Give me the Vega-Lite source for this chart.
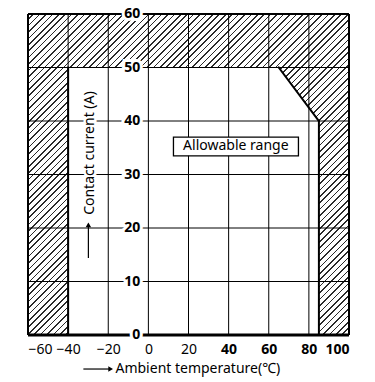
{
  "$schema": "https://vega.github.io/schema/vega-lite/v6.json",
  "width": 321,
  "height": 321,
  "autosize": "none",
  "padding": {"left": 28, "top": 14, "right": 26, "bottom": 47},
  "background": "white",
  "config": {
    "view": {"stroke": null},
    "axisY": {"disable": true},
    "font": "Noto Sans",
    "text": {"font": "Noto Sans"}
  },
  "datasets": {
    "allowable": [
      {"temp": -40, "current": 50},
      {"temp": 65, "current": 50},
      {"temp": 85, "current": 40}
    ],
    "boundary": [
      {"temp": -40, "current": 0, "temp2": -40, "current2": 50},
      {"temp": 65, "current": 50, "temp2": 85, "current2": 40},
      {"temp": 85, "current": 40, "temp2": 85, "current2": 0}
    ],
    "gridX": [{"temp": -40}, {"temp": -20}, {"temp": 0}, {"temp": 20}, {"temp": 40}, {"temp": 60}, {"temp": 80}],
    "gridY": [{"current": 10}, {"current": 20}, {"current": 30}, {"current": 40}, {"current": 50}],
    "frameX": [{"temp": -60}, {"temp": 100}],
    "ticksY": [{"current": 0}, {"current": 10}, {"current": 20}, {"current": 30}, {"current": 40}, {"current": 50}, {"current": 60}]
  },
  "layer": [
    {
      "data": {"values": [{}]},
      "mark": {
        "type": "rect",
        "stroke": null,
        "fill": {
          "gradient": "linear", "x1": 0, "y1": 0, "x2": 1, "y2": 1,
          "stops": [
            {"offset":0,"color":"#fff"},{"offset":0.0075,"color":"#fff"},{"offset":0.0075,"color":"#2a2a2a"},{"offset":0.01,"color":"#2a2a2a"},
            {"offset":0.01,"color":"#fff"},{"offset":0.0175,"color":"#fff"},{"offset":0.0175,"color":"#2a2a2a"},{"offset":0.02,"color":"#2a2a2a"},
            {"offset":0.02,"color":"#fff"},{"offset":0.0275,"color":"#fff"},{"offset":0.0275,"color":"#2a2a2a"},{"offset":0.03,"color":"#2a2a2a"},
            {"offset":0.03,"color":"#fff"},{"offset":0.0375,"color":"#fff"},{"offset":0.0375,"color":"#2a2a2a"},{"offset":0.04,"color":"#2a2a2a"},
            {"offset":0.04,"color":"#fff"},{"offset":0.0475,"color":"#fff"},{"offset":0.0475,"color":"#2a2a2a"},{"offset":0.05,"color":"#2a2a2a"},
            {"offset":0.05,"color":"#fff"},{"offset":0.0575,"color":"#fff"},{"offset":0.0575,"color":"#2a2a2a"},{"offset":0.06,"color":"#2a2a2a"},
            {"offset":0.06,"color":"#fff"},{"offset":0.0675,"color":"#fff"},{"offset":0.0675,"color":"#2a2a2a"},{"offset":0.07,"color":"#2a2a2a"},
            {"offset":0.07,"color":"#fff"},{"offset":0.0775,"color":"#fff"},{"offset":0.0775,"color":"#2a2a2a"},{"offset":0.08,"color":"#2a2a2a"},
            {"offset":0.08,"color":"#fff"},{"offset":0.0875,"color":"#fff"},{"offset":0.0875,"color":"#2a2a2a"},{"offset":0.09,"color":"#2a2a2a"},
            {"offset":0.09,"color":"#fff"},{"offset":0.0975,"color":"#fff"},{"offset":0.0975,"color":"#2a2a2a"},{"offset":0.1,"color":"#2a2a2a"},
            {"offset":0.1,"color":"#fff"},{"offset":0.1075,"color":"#fff"},{"offset":0.1075,"color":"#2a2a2a"},{"offset":0.11,"color":"#2a2a2a"},
            {"offset":0.11,"color":"#fff"},{"offset":0.1175,"color":"#fff"},{"offset":0.1175,"color":"#2a2a2a"},{"offset":0.12,"color":"#2a2a2a"},
            {"offset":0.12,"color":"#fff"},{"offset":0.1275,"color":"#fff"},{"offset":0.1275,"color":"#2a2a2a"},{"offset":0.13,"color":"#2a2a2a"},
            {"offset":0.13,"color":"#fff"},{"offset":0.1375,"color":"#fff"},{"offset":0.1375,"color":"#2a2a2a"},{"offset":0.14,"color":"#2a2a2a"},
            {"offset":0.14,"color":"#fff"},{"offset":0.1475,"color":"#fff"},{"offset":0.1475,"color":"#2a2a2a"},{"offset":0.15,"color":"#2a2a2a"},
            {"offset":0.15,"color":"#fff"},{"offset":0.1575,"color":"#fff"},{"offset":0.1575,"color":"#2a2a2a"},{"offset":0.16,"color":"#2a2a2a"},
            {"offset":0.16,"color":"#fff"},{"offset":0.1675,"color":"#fff"},{"offset":0.1675,"color":"#2a2a2a"},{"offset":0.17,"color":"#2a2a2a"},
            {"offset":0.17,"color":"#fff"},{"offset":0.1775,"color":"#fff"},{"offset":0.1775,"color":"#2a2a2a"},{"offset":0.18,"color":"#2a2a2a"},
            {"offset":0.18,"color":"#fff"},{"offset":0.1875,"color":"#fff"},{"offset":0.1875,"color":"#2a2a2a"},{"offset":0.19,"color":"#2a2a2a"},
            {"offset":0.19,"color":"#fff"},{"offset":0.1975,"color":"#fff"},{"offset":0.1975,"color":"#2a2a2a"},{"offset":0.2,"color":"#2a2a2a"},
            {"offset":0.2,"color":"#fff"},{"offset":0.2075,"color":"#fff"},{"offset":0.2075,"color":"#2a2a2a"},{"offset":0.21,"color":"#2a2a2a"},
            {"offset":0.21,"color":"#fff"},{"offset":0.2175,"color":"#fff"},{"offset":0.2175,"color":"#2a2a2a"},{"offset":0.22,"color":"#2a2a2a"},
            {"offset":0.22,"color":"#fff"},{"offset":0.2275,"color":"#fff"},{"offset":0.2275,"color":"#2a2a2a"},{"offset":0.23,"color":"#2a2a2a"},
            {"offset":0.23,"color":"#fff"},{"offset":0.2375,"color":"#fff"},{"offset":0.2375,"color":"#2a2a2a"},{"offset":0.24,"color":"#2a2a2a"},
            {"offset":0.24,"color":"#fff"},{"offset":0.2475,"color":"#fff"},{"offset":0.2475,"color":"#2a2a2a"},{"offset":0.25,"color":"#2a2a2a"},
            {"offset":0.25,"color":"#fff"},{"offset":0.2575,"color":"#fff"},{"offset":0.2575,"color":"#2a2a2a"},{"offset":0.26,"color":"#2a2a2a"},
            {"offset":0.26,"color":"#fff"},{"offset":0.2675,"color":"#fff"},{"offset":0.2675,"color":"#2a2a2a"},{"offset":0.27,"color":"#2a2a2a"},
            {"offset":0.27,"color":"#fff"},{"offset":0.2775,"color":"#fff"},{"offset":0.2775,"color":"#2a2a2a"},{"offset":0.28,"color":"#2a2a2a"},
            {"offset":0.28,"color":"#fff"},{"offset":0.2875,"color":"#fff"},{"offset":0.2875,"color":"#2a2a2a"},{"offset":0.29,"color":"#2a2a2a"},
            {"offset":0.29,"color":"#fff"},{"offset":0.2975,"color":"#fff"},{"offset":0.2975,"color":"#2a2a2a"},{"offset":0.3,"color":"#2a2a2a"},
            {"offset":0.3,"color":"#fff"},{"offset":0.3075,"color":"#fff"},{"offset":0.3075,"color":"#2a2a2a"},{"offset":0.31,"color":"#2a2a2a"},
            {"offset":0.31,"color":"#fff"},{"offset":0.3175,"color":"#fff"},{"offset":0.3175,"color":"#2a2a2a"},{"offset":0.32,"color":"#2a2a2a"},
            {"offset":0.32,"color":"#fff"},{"offset":0.3275,"color":"#fff"},{"offset":0.3275,"color":"#2a2a2a"},{"offset":0.33,"color":"#2a2a2a"},
            {"offset":0.33,"color":"#fff"},{"offset":0.3375,"color":"#fff"},{"offset":0.3375,"color":"#2a2a2a"},{"offset":0.34,"color":"#2a2a2a"},
            {"offset":0.34,"color":"#fff"},{"offset":0.3475,"color":"#fff"},{"offset":0.3475,"color":"#2a2a2a"},{"offset":0.35,"color":"#2a2a2a"},
            {"offset":0.35,"color":"#fff"},{"offset":0.3575,"color":"#fff"},{"offset":0.3575,"color":"#2a2a2a"},{"offset":0.36,"color":"#2a2a2a"},
            {"offset":0.36,"color":"#fff"},{"offset":0.3675,"color":"#fff"},{"offset":0.3675,"color":"#2a2a2a"},{"offset":0.37,"color":"#2a2a2a"},
            {"offset":0.37,"color":"#fff"},{"offset":0.3775,"color":"#fff"},{"offset":0.3775,"color":"#2a2a2a"},{"offset":0.38,"color":"#2a2a2a"},
            {"offset":0.38,"color":"#fff"},{"offset":0.3875,"color":"#fff"},{"offset":0.3875,"color":"#2a2a2a"},{"offset":0.39,"color":"#2a2a2a"},
            {"offset":0.39,"color":"#fff"},{"offset":0.3975,"color":"#fff"},{"offset":0.3975,"color":"#2a2a2a"},{"offset":0.4,"color":"#2a2a2a"},
            {"offset":0.4,"color":"#fff"},{"offset":0.4075,"color":"#fff"},{"offset":0.4075,"color":"#2a2a2a"},{"offset":0.41,"color":"#2a2a2a"},
            {"offset":0.41,"color":"#fff"},{"offset":0.4175,"color":"#fff"},{"offset":0.4175,"color":"#2a2a2a"},{"offset":0.42,"color":"#2a2a2a"},
            {"offset":0.42,"color":"#fff"},{"offset":0.4275,"color":"#fff"},{"offset":0.4275,"color":"#2a2a2a"},{"offset":0.43,"color":"#2a2a2a"},
            {"offset":0.43,"color":"#fff"},{"offset":0.4375,"color":"#fff"},{"offset":0.4375,"color":"#2a2a2a"},{"offset":0.44,"color":"#2a2a2a"},
            {"offset":0.44,"color":"#fff"},{"offset":0.4475,"color":"#fff"},{"offset":0.4475,"color":"#2a2a2a"},{"offset":0.45,"color":"#2a2a2a"},
            {"offset":0.45,"color":"#fff"},{"offset":0.4575,"color":"#fff"},{"offset":0.4575,"color":"#2a2a2a"},{"offset":0.46,"color":"#2a2a2a"},
            {"offset":0.46,"color":"#fff"},{"offset":0.4675,"color":"#fff"},{"offset":0.4675,"color":"#2a2a2a"},{"offset":0.47,"color":"#2a2a2a"},
            {"offset":0.47,"color":"#fff"},{"offset":0.4775,"color":"#fff"},{"offset":0.4775,"color":"#2a2a2a"},{"offset":0.48,"color":"#2a2a2a"},
            {"offset":0.48,"color":"#fff"},{"offset":0.4875,"color":"#fff"},{"offset":0.4875,"color":"#2a2a2a"},{"offset":0.49,"color":"#2a2a2a"},
            {"offset":0.49,"color":"#fff"},{"offset":0.4975,"color":"#fff"},{"offset":0.4975,"color":"#2a2a2a"},{"offset":0.5,"color":"#2a2a2a"},
            {"offset":0.5,"color":"#fff"},{"offset":0.5075,"color":"#fff"},{"offset":0.5075,"color":"#2a2a2a"},{"offset":0.51,"color":"#2a2a2a"},
            {"offset":0.51,"color":"#fff"},{"offset":0.5175,"color":"#fff"},{"offset":0.5175,"color":"#2a2a2a"},{"offset":0.52,"color":"#2a2a2a"},
            {"offset":0.52,"color":"#fff"},{"offset":0.5275,"color":"#fff"},{"offset":0.5275,"color":"#2a2a2a"},{"offset":0.53,"color":"#2a2a2a"},
            {"offset":0.53,"color":"#fff"},{"offset":0.5375,"color":"#fff"},{"offset":0.5375,"color":"#2a2a2a"},{"offset":0.54,"color":"#2a2a2a"},
            {"offset":0.54,"color":"#fff"},{"offset":0.5475,"color":"#fff"},{"offset":0.5475,"color":"#2a2a2a"},{"offset":0.55,"color":"#2a2a2a"},
            {"offset":0.55,"color":"#fff"},{"offset":0.5575,"color":"#fff"},{"offset":0.5575,"color":"#2a2a2a"},{"offset":0.56,"color":"#2a2a2a"},
            {"offset":0.56,"color":"#fff"},{"offset":0.5675,"color":"#fff"},{"offset":0.5675,"color":"#2a2a2a"},{"offset":0.57,"color":"#2a2a2a"},
            {"offset":0.57,"color":"#fff"},{"offset":0.5775,"color":"#fff"},{"offset":0.5775,"color":"#2a2a2a"},{"offset":0.58,"color":"#2a2a2a"},
            {"offset":0.58,"color":"#fff"},{"offset":0.5875,"color":"#fff"},{"offset":0.5875,"color":"#2a2a2a"},{"offset":0.59,"color":"#2a2a2a"},
            {"offset":0.59,"color":"#fff"},{"offset":0.5975,"color":"#fff"},{"offset":0.5975,"color":"#2a2a2a"},{"offset":0.6,"color":"#2a2a2a"},
            {"offset":0.6,"color":"#fff"},{"offset":0.6075,"color":"#fff"},{"offset":0.6075,"color":"#2a2a2a"},{"offset":0.61,"color":"#2a2a2a"},
            {"offset":0.61,"color":"#fff"},{"offset":0.6175,"color":"#fff"},{"offset":0.6175,"color":"#2a2a2a"},{"offset":0.62,"color":"#2a2a2a"},
            {"offset":0.62,"color":"#fff"},{"offset":0.6275,"color":"#fff"},{"offset":0.6275,"color":"#2a2a2a"},{"offset":0.63,"color":"#2a2a2a"},
            {"offset":0.63,"color":"#fff"},{"offset":0.6375,"color":"#fff"},{"offset":0.6375,"color":"#2a2a2a"},{"offset":0.64,"color":"#2a2a2a"},
            {"offset":0.64,"color":"#fff"},{"offset":0.6475,"color":"#fff"},{"offset":0.6475,"color":"#2a2a2a"},{"offset":0.65,"color":"#2a2a2a"},
            {"offset":0.65,"color":"#fff"},{"offset":0.6575,"color":"#fff"},{"offset":0.6575,"color":"#2a2a2a"},{"offset":0.66,"color":"#2a2a2a"},
            {"offset":0.66,"color":"#fff"},{"offset":0.6675,"color":"#fff"},{"offset":0.6675,"color":"#2a2a2a"},{"offset":0.67,"color":"#2a2a2a"},
            {"offset":0.67,"color":"#fff"},{"offset":0.6775,"color":"#fff"},{"offset":0.6775,"color":"#2a2a2a"},{"offset":0.68,"color":"#2a2a2a"},
            {"offset":0.68,"color":"#fff"},{"offset":0.6875,"color":"#fff"},{"offset":0.6875,"color":"#2a2a2a"},{"offset":0.69,"color":"#2a2a2a"},
            {"offset":0.69,"color":"#fff"},{"offset":0.6975,"color":"#fff"},{"offset":0.6975,"color":"#2a2a2a"},{"offset":0.7,"color":"#2a2a2a"},
            {"offset":0.7,"color":"#fff"},{"offset":0.7075,"color":"#fff"},{"offset":0.7075,"color":"#2a2a2a"},{"offset":0.71,"color":"#2a2a2a"},
            {"offset":0.71,"color":"#fff"},{"offset":0.7175,"color":"#fff"},{"offset":0.7175,"color":"#2a2a2a"},{"offset":0.72,"color":"#2a2a2a"},
            {"offset":0.72,"color":"#fff"},{"offset":0.7275,"color":"#fff"},{"offset":0.7275,"color":"#2a2a2a"},{"offset":0.73,"color":"#2a2a2a"},
            {"offset":0.73,"color":"#fff"},{"offset":0.7375,"color":"#fff"},{"offset":0.7375,"color":"#2a2a2a"},{"offset":0.74,"color":"#2a2a2a"},
            {"offset":0.74,"color":"#fff"},{"offset":0.7475,"color":"#fff"},{"offset":0.7475,"color":"#2a2a2a"},{"offset":0.75,"color":"#2a2a2a"},
            {"offset":0.75,"color":"#fff"},{"offset":0.7575,"color":"#fff"},{"offset":0.7575,"color":"#2a2a2a"},{"offset":0.76,"color":"#2a2a2a"},
            {"offset":0.76,"color":"#fff"},{"offset":0.7675,"color":"#fff"},{"offset":0.7675,"color":"#2a2a2a"},{"offset":0.77,"color":"#2a2a2a"},
            {"offset":0.77,"color":"#fff"},{"offset":0.7775,"color":"#fff"},{"offset":0.7775,"color":"#2a2a2a"},{"offset":0.78,"color":"#2a2a2a"},
            {"offset":0.78,"color":"#fff"},{"offset":0.7875,"color":"#fff"},{"offset":0.7875,"color":"#2a2a2a"},{"offset":0.79,"color":"#2a2a2a"},
            {"offset":0.79,"color":"#fff"},{"offset":0.7975,"color":"#fff"},{"offset":0.7975,"color":"#2a2a2a"},{"offset":0.8,"color":"#2a2a2a"},
            {"offset":0.8,"color":"#fff"},{"offset":0.8075,"color":"#fff"},{"offset":0.8075,"color":"#2a2a2a"},{"offset":0.81,"color":"#2a2a2a"},
            {"offset":0.81,"color":"#fff"},{"offset":0.8175,"color":"#fff"},{"offset":0.8175,"color":"#2a2a2a"},{"offset":0.82,"color":"#2a2a2a"},
            {"offset":0.82,"color":"#fff"},{"offset":0.8275,"color":"#fff"},{"offset":0.8275,"color":"#2a2a2a"},{"offset":0.83,"color":"#2a2a2a"},
            {"offset":0.83,"color":"#fff"},{"offset":0.8375,"color":"#fff"},{"offset":0.8375,"color":"#2a2a2a"},{"offset":0.84,"color":"#2a2a2a"},
            {"offset":0.84,"color":"#fff"},{"offset":0.8475,"color":"#fff"},{"offset":0.8475,"color":"#2a2a2a"},{"offset":0.85,"color":"#2a2a2a"},
            {"offset":0.85,"color":"#fff"},{"offset":0.8575,"color":"#fff"},{"offset":0.8575,"color":"#2a2a2a"},{"offset":0.86,"color":"#2a2a2a"},
            {"offset":0.86,"color":"#fff"},{"offset":0.8675,"color":"#fff"},{"offset":0.8675,"color":"#2a2a2a"},{"offset":0.87,"color":"#2a2a2a"},
            {"offset":0.87,"color":"#fff"},{"offset":0.8775,"color":"#fff"},{"offset":0.8775,"color":"#2a2a2a"},{"offset":0.88,"color":"#2a2a2a"},
            {"offset":0.88,"color":"#fff"},{"offset":0.8875,"color":"#fff"},{"offset":0.8875,"color":"#2a2a2a"},{"offset":0.89,"color":"#2a2a2a"},
            {"offset":0.89,"color":"#fff"},{"offset":0.8975,"color":"#fff"},{"offset":0.8975,"color":"#2a2a2a"},{"offset":0.9,"color":"#2a2a2a"},
            {"offset":0.9,"color":"#fff"},{"offset":0.9075,"color":"#fff"},{"offset":0.9075,"color":"#2a2a2a"},{"offset":0.91,"color":"#2a2a2a"},
            {"offset":0.91,"color":"#fff"},{"offset":0.9175,"color":"#fff"},{"offset":0.9175,"color":"#2a2a2a"},{"offset":0.92,"color":"#2a2a2a"},
            {"offset":0.92,"color":"#fff"},{"offset":0.9275,"color":"#fff"},{"offset":0.9275,"color":"#2a2a2a"},{"offset":0.93,"color":"#2a2a2a"},
            {"offset":0.93,"color":"#fff"},{"offset":0.9375,"color":"#fff"},{"offset":0.9375,"color":"#2a2a2a"},{"offset":0.94,"color":"#2a2a2a"},
            {"offset":0.94,"color":"#fff"},{"offset":0.9475,"color":"#fff"},{"offset":0.9475,"color":"#2a2a2a"},{"offset":0.95,"color":"#2a2a2a"},
            {"offset":0.95,"color":"#fff"},{"offset":0.9575,"color":"#fff"},{"offset":0.9575,"color":"#2a2a2a"},{"offset":0.96,"color":"#2a2a2a"},
            {"offset":0.96,"color":"#fff"},{"offset":0.9675,"color":"#fff"},{"offset":0.9675,"color":"#2a2a2a"},{"offset":0.97,"color":"#2a2a2a"},
            {"offset":0.97,"color":"#fff"},{"offset":0.9775,"color":"#fff"},{"offset":0.9775,"color":"#2a2a2a"},{"offset":0.98,"color":"#2a2a2a"},
            {"offset":0.98,"color":"#fff"},{"offset":0.9875,"color":"#fff"},{"offset":0.9875,"color":"#2a2a2a"},{"offset":0.99,"color":"#2a2a2a"},
            {"offset":0.99,"color":"#fff"},{"offset":0.9975,"color":"#fff"},{"offset":0.9975,"color":"#2a2a2a"},{"offset":1,"color":"#2a2a2a"}
          ]
        }
      },
      "encoding": {
        "x": {
          "datum": -60, "type": "quantitative",
          "scale": {"domain": [-60, 100], "nice": false, "zero": false},
          "axis": {
            "values": [-60, -40, -20, 0, 20, 40, 60, 80, 100],
            "title": null, "grid": false, "domain": false, "ticks": false, "tickSize": 0,
            "labelPadding": 7, "labelFont": "Noto Sans", "labelFontSize": 14, "labelColor": "black",
            "labelFontWeight": {"condition": {"test": "datum.value >= 40", "value": "bold"}, "value": "normal"},
            "labelOverlap": false
          }
        },
        "x2": {"datum": 100},
        "y": {"datum": 0, "type": "quantitative", "scale": {"domain": [0, 60], "nice": false, "zero": false}},
        "y2": {"datum": 60}
      }
    },
    {
      "data": {"name": "allowable"},
      "mark": {"type": "area", "fill": "white", "opacity": 1, "stroke": null},
      "encoding": {
        "x": {"field": "temp", "type": "quantitative", "title": null},
        "y": {"field": "current", "type": "quantitative", "title": null},
        "y2": {"datum": 0}
      }
    },
    {
      "data": {"name": "gridX"},
      "mark": {"type": "rule", "color": "black", "strokeWidth": 1},
      "encoding": {"x": {"field": "temp", "type": "quantitative", "title": null}}
    },
    {
      "data": {"name": "gridY"},
      "mark": {"type": "rule", "color": "black", "strokeWidth": 1},
      "encoding": {"y": {"field": "current", "type": "quantitative", "title": null}}
    },
    {
      "data": {"name": "frameX"},
      "mark": {"type": "rule", "color": "black", "strokeWidth": 2},
      "encoding": {"x": {"field": "temp", "type": "quantitative", "title": null}}
    },
    {
      "data": {"values": [{}]},
      "mark": {"type": "rule", "color": "black", "strokeWidth": 2},
      "encoding": {"y": {"datum": 60}}
    },
    {
      "data": {"values": [{}]},
      "mark": {"type": "rule", "color": "black", "strokeWidth": 3},
      "encoding": {"y": {"datum": 0}}
    },
    {
      "data": {"name": "boundary"},
      "mark": {"type": "rule", "color": "black", "strokeWidth": 2, "strokeCap": "square"},
      "encoding": {
        "x": {"field": "temp", "type": "quantitative", "title": null},
        "x2": {"field": "temp2"},
        "y": {"field": "current", "type": "quantitative", "title": null},
        "y2": {"field": "current2"}
      }
    },
    {
      "data": {"name": "ticksY"},
      "mark": {"type": "text", "align": "right", "baseline": "middle", "dx": -8, "fontSize": 14, "fontWeight": "bold", "fill": "white", "stroke": "white", "strokeWidth": 6},
      "encoding": {
        "x": {"datum": 0},
        "y": {"field": "current", "type": "quantitative", "title": null},
        "text": {"field": "current", "type": "quantitative"}
      }
    },
    {
      "data": {"name": "ticksY"},
      "mark": {"type": "text", "align": "right", "baseline": "middle", "dx": -8, "fontSize": 14, "fontWeight": "bold", "fill": "black"},
      "encoding": {
        "x": {"datum": 0},
        "y": {"field": "current", "type": "quantitative", "title": null},
        "text": {"field": "current", "type": "quantitative"}
      }
    },
    {
      "data": {"values": [{}]},
      "mark": {"type": "rect", "fill": "white", "stroke": "black", "strokeWidth": 1.3},
      "encoding": {
        "x": {"datum": 12.5}, "x2": {"datum": 74.8},
        "y": {"datum": 33.5}, "y2": {"datum": 37.0}
      }
    },
    {
      "data": {"values": [{}]},
      "mark": {"type": "text", "text": "Allowable range", "align": "center", "baseline": "middle", "fontSize": 14, "fill": "black"},
      "encoding": {"x": {"datum": 43.6}, "y": {"datum": 35.25}}
    },
    {
      "data": {"values": [{}]},
      "mark": {"type": "text", "text": "Contact current (A)", "align": "center", "baseline": "middle", "angle": 270, "fontSize": 14, "fill": "white", "stroke": "white", "strokeWidth": 5},
      "encoding": {"x": {"datum": -29.3}, "y": {"datum": 34}}
    },
    {
      "data": {"values": [{}]},
      "mark": {"type": "text", "text": "Contact current (A)", "align": "center", "baseline": "middle", "angle": 270, "fontSize": 14, "fill": "black"},
      "encoding": {"x": {"datum": -29.3}, "y": {"datum": 34}}
    },
    {
      "data": {"values": [{}]},
      "mark": {"type": "rule", "color": "black", "strokeWidth": 1.2},
      "encoding": {"x": {"datum": -29.9}, "y": {"datum": 14.4}, "y2": {"datum": 20.6}}
    },
    {
      "data": {"values": [{}]},
      "mark": {"type": "point", "shape": "triangle-up", "size": 30, "filled": true, "color": "black", "opacity": 1},
      "encoding": {"x": {"datum": -29.9}, "y": {"datum": 20.6}}
    },
    {
      "data": {"values": [{}]},
      "mark": {"type": "rule", "color": "black", "strokeWidth": 1.2},
      "encoding": {"x": {"datum": -32.4}, "x2": {"datum": -18.8}, "y": {"datum": -6.36}}
    },
    {
      "data": {"values": [{}]},
      "mark": {"type": "point", "shape": "triangle-right", "size": 30, "filled": true, "color": "black", "opacity": 1},
      "encoding": {"x": {"datum": -18.8}, "y": {"datum": -6.36}}
    },
    {
      "data": {"values": [{}]},
      "mark": {"type": "text", "text": "Ambient temperature(℃)", "align": "left", "baseline": "middle", "fontSize": 14, "fill": "black"},
      "encoding": {"x": {"datum": -16.4}, "y": {"datum": -6.36}}
    }
  ]
}
